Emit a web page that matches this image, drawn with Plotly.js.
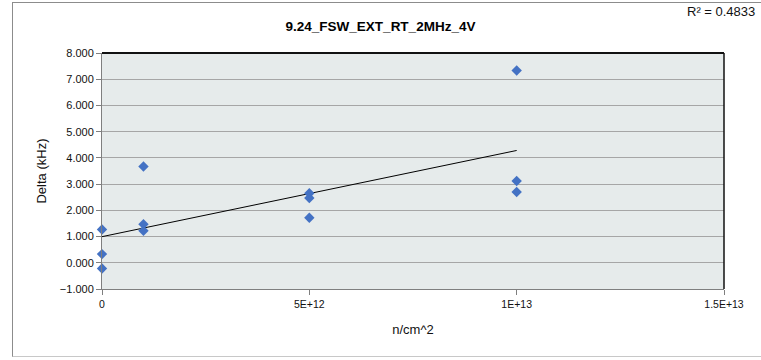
<!DOCTYPE html>
<html>
<head>
<meta charset="utf-8">
<script src="https://cdn.plot.ly/plotly-3.0.1.min.js"></script>
<style>
  html, body { margin: 0; padding: 0; background: #ffffff; }
  #wrap { position: relative; width: 761px; height: 360px; overflow: hidden; }
  #chart { position: absolute; left: 0; top: 0; width: 761px; height: 360px; }
  #frame { position: absolute; left: 12px; top: 2px; width: 800px; height: 353px;
           border: 1px solid #8c8c8c; border-bottom-color: #c8c8c8; pointer-events: none; }
</style>
</head>
<body>
<div id="wrap">
  <div id="chart"></div>
  <div id="frame"></div>
</div>
<script>
// Data
const fluence = [0, 0, 0, 1e12, 1e12, 1e12, 5e12, 5e12, 5e12, 1e13, 1e13, 1e13];
const deltaKHz = [1.27, 0.33, -0.22, 1.47, 1.22, 3.67, 2.65, 2.47, 1.72, 7.33, 3.12, 2.70];
const xTickVals = [0, 5e12, 1e13, 1.5e13];
const xTickText = ['0', '5E+12', '1E+13', '1.5E+13'];
const chartTitle = '9.24_FSW_EXT_RT_2MHz_4V';
const r2Label = 'R² = 0.4833';

// Linear least-squares trendline
const n = fluence.length;
const mx = fluence.reduce((a, b) => a + b, 0) / n;
const my = deltaKHz.reduce((a, b) => a + b, 0) / n;
let sxy = 0, sxx = 0;
for (let i = 0; i < n; i++) { sxy += (fluence[i] - mx) * (deltaKHz[i] - my); sxx += (fluence[i] - mx) ** 2; }
const slope = sxy / sxx;
const intercept = my - slope * mx;
const xMin = Math.min(...fluence), xMax = Math.max(...fluence);
const trendX = [xMin, xMax];
const trendY = trendX.map(x => intercept + slope * x);

const font = 'Liberation Sans, Arial, sans-serif';

const traces = [
  { x: trendX, y: trendY, type: 'scatter', mode: 'lines',
    line: { color: '#000000', width: 1 }, hoverinfo: 'skip', showlegend: false },
  { x: fluence, y: deltaKHz, type: 'scatter', mode: 'markers', cliponaxis: false,
    marker: { symbol: 'diamond', size: 8, color: '#4472C4' }, showlegend: false }
];

const layout = {
  width: 761, height: 360,
  margin: { l: 102, r: 37, t: 53, b: 71, pad: 0 },
  paper_bgcolor: '#ffffff',
  plot_bgcolor: '#E6EBEB',
  font: { family: font, size: 11, color: '#111111' },
  title: { text: '<b>' + chartTitle + '</b>', x: 386, xref: 'container', xanchor: 'center',
           y: 333, yref: 'container', yanchor: 'middle',
           font: { family: font, size: 13.5, color: '#000000' } },
  xaxis: {
    range: [0, 1.5e13], tickvals: xTickVals, ticktext: xTickText,
    showgrid: false, zeroline: false,
    showline: true, linecolor: '#7f7f7f', linewidth: 1,
    ticks: 'outside', ticklen: 5, tickcolor: '#7f7f7f',
    tickfont: { family: font, size: 10.5, color: '#111111' },
    title: { text: 'n/cm^2', font: { family: font, size: 13, color: '#111111' }, standoff: 16 }
  },
  yaxis: {
    range: [-1, 8], dtick: 1, tick0: 0, tickformat: '.3f',
    showgrid: true, gridcolor: '#A6A6A6', gridwidth: 1, zeroline: false,
    showline: true, linecolor: '#7f7f7f', linewidth: 1,
    ticks: 'outside', ticklen: 5, tickcolor: '#7f7f7f',
    tickfont: { family: font, size: 11, color: '#111111' },
    title: { text: 'Delta (kHz)', font: { family: font, size: 13, color: '#111111' }, standoff: 10 }
  },
  shapes: [
    { type: 'line', xref: 'paper', yref: 'paper', x0: 0, x1: 1, y0: 1, y1: 1,
      line: { color: '#111111', width: 2 } },
    { type: 'line', xref: 'paper', yref: 'paper', x0: 1, x1: 1, y0: 0, y1: 1,
      line: { color: '#111111', width: 1.5 } }
  ],
  annotations: [
    { text: r2Label, xref: 'paper', yref: 'paper', x: 1.053, y: 1.175,
      xanchor: 'right', yanchor: 'middle', showarrow: false,
      font: { family: font, size: 13, color: '#111111' } }
  ]
};

Plotly.newPlot('chart', traces, layout, { displayModeBar: false, staticPlot: true });
</script>
</body>
</html>
